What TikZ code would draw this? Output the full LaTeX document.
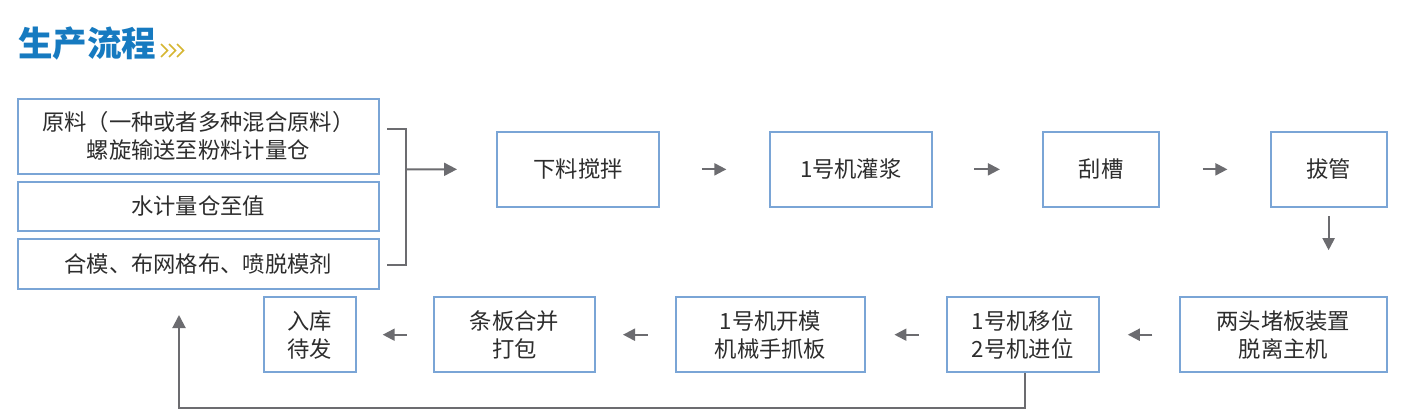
\documentclass[tikz,border=0pt]{standalone}
\usepackage{fontspec}
\setmainfont{Noto Sans CJK SC}
\usetikzlibrary{arrows.meta}
\definecolor{boxblue}{RGB}{122,165,214}
\definecolor{arrgray}{RGB}{108,108,112}
\definecolor{txtgray}{RGB}{45,45,45}
\definecolor{titleblue}{RGB}{22,122,192}
\definecolor{chevgold}{RGB}{214,182,50}
\begin{document}
\begin{tikzpicture}[x=1pt,y=-1pt,
  box/.style={draw=boxblue, line width=2pt, text=txtgray, align=center,
    font=\fontsize{22.3}{28}\selectfont, inner sep=0pt, minimum height=75pt},
  conn/.style={draw=arrgray, line width=2pt},
  flow/.style={conn, -{Triangle[length=13pt,width=13pt]}},
  sflow/.style={conn, -{Triangle[length=12pt,width=12pt]}}]
\fill[white] (0,0) rectangle (1405,420);
\useasboundingbox (0,0) rectangle (1405,420);

% title
\node[anchor=west, inner sep=0pt, text=titleblue,
  font=\fontsize{34.5}{34.5}\selectfont\bfseries] (title) at (18,44) {生产流程};
\foreach \i in {0,1,2}
  \draw[chevgold, line width=1.6pt] (161+8*\i,44) -- (167.5+8*\i,50.5) -- (161+8*\i,57);

% left column
\node[box, minimum width=361.5pt] (b1) at (198.25,136.2) {原料（一种或者多种混合原料）\\螺旋输送至粉料计量仓};
\node[box, minimum width=361.5pt, minimum height=49.3pt] (b2) at (198.25,206.3) {水计量仓至值};
\node[box, minimum width=361.5pt, minimum height=49.7pt] (b3) at (198.25,263.8) {合模、布网格布、喷脱模剂};

% top row
\node[box, minimum width=161.4pt] (s1) at (578,169.35) {下料搅拌};
\node[box, minimum width=161.7pt] (s2) at (850.8,169.35) {1号机灌浆};
\node[box, minimum width=116.2pt] (s3) at (1101.1,169.35) {刮槽};
\node[box, minimum width=116.2pt] (s4) at (1328.6,169.35) {拔管};

% bottom row
\node[box, minimum width=206.7pt] (t1) at (1283.3,334.7) {两头堵板装置\\脱离主机};
\node[box, minimum width=152pt] (t2) at (1022.7,334.7) {1号机移位\\2号机进位};
\node[box, minimum width=189.7pt] (t3) at (770.5,334.7) {1号机开模\\机械手抓板};
\node[box, minimum width=161pt] (t4) at (514.5,334.7) {条板合并\\打包};
\node[box, minimum width=92pt] (t5) at (309.8,334.7) {入库\\待发};

% bracket
\coordinate (brtop) at (387,129.3);
\coordinate (brbot) at (387,265.3);
\coordinate (brmid) at (406,169.3);
\draw[conn] (brtop) -- (406,129.3) -- (406,265.3) -- (brbot);
\draw[flow, shorten >=39.3pt] (brmid) -- (s1);

% top arrows
\draw[sflow, shorten <=42.1pt, shorten >=42.6pt] (s1) -- (s2);
\draw[sflow, shorten <=41.6pt, shorten >=42.1pt] (s2) -- (s3);
\draw[sflow, shorten <=42.6pt, shorten >=42.1pt] (s3) -- (s4);
\draw[sflow, shorten <=8.3pt, shorten >=46pt] (s4) -- (s4 |- t1.north);

% bottom arrows
\draw[sflow, shorten <=26.6pt, shorten >=28.1pt] (t1) -- (t2);
\draw[sflow, shorten <=27.1pt, shorten >=28.1pt] (t2) -- (t3);
\draw[sflow, shorten <=26.7pt, shorten >=27pt] (t3) -- (t4);
\draw[sflow, shorten <=26.3pt, shorten >=25.9pt] (t4) -- (t5);

% loop back
\coordinate (loopend) at (179,315);
\draw[flow] ([xshift=2.4pt]t2.south) -- ++(0,34.4) -| (loopend);
\end{tikzpicture}
\end{document}
